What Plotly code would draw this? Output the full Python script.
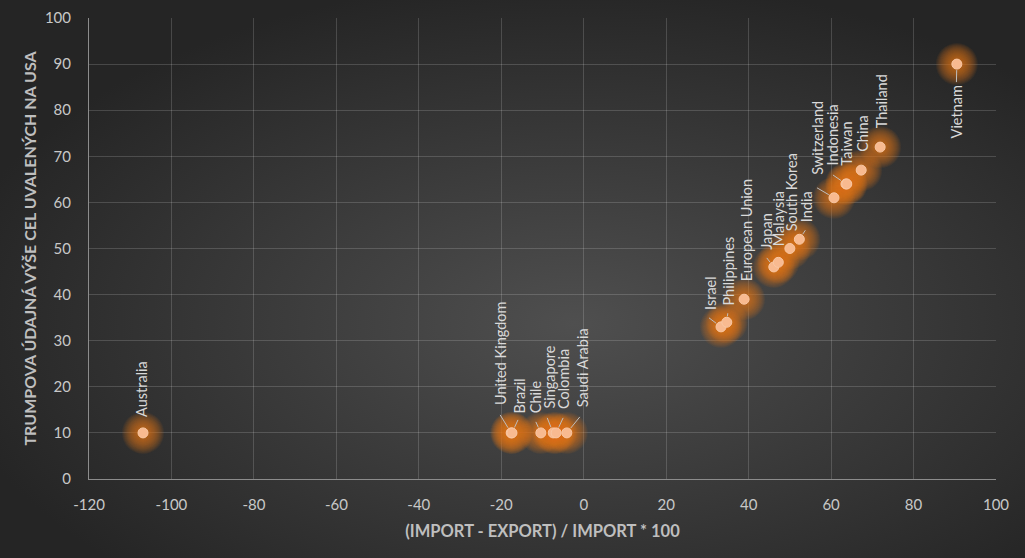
import plotly.graph_objects as go
import base64
import math

# ---- data ----
countries = ["Australia", "United Kingdom", "Brazil", "Chile", "Singapore", "Colombia",
             "Saudi Arabia", "Israel", "Philippines", "European Union", "Japan", "Malaysia",
             "South Korea", "India", "Switzerland", "Indonesia", "Taiwan", "China",
             "Thailand", "Vietnam"]
trade_balance_pct = [-106.9, -17.6, -17.4, -10.4, -7.4, -6.7, -4.1, 33.3, 34.7, 38.9,
                     46.1, 47.2, 50.0, 52.3, 60.7, 63.6, 63.8, 67.3, 71.9, 90.5]
claimed_tariff = [10, 10, 10, 10, 10, 10, 10, 33, 34, 39, 46, 47, 50, 52, 61, 64, 64, 67, 72, 90]

x_ticks = [-120, -100, -80, -60, -40, -20, 0, 20, 40, 60, 80, 100]
y_ticks = [0, 10, 20, 30, 40, 50, 60, 70, 80, 90, 100]

x_title = "(IMPORT - EXPORT) / IMPORT * 100"
y_title = "TRUMPOVA ÚDAJNÁ VÝŠE CEL UVALENÝCH NA USA"

# ---- label placement: pixel offset of the label's near end from its point ----
label_offset = {
    "Australia": (-1, -15), "United Kingdom": (-10, -27), "Brazil": (7, -19),
    "Chile": (-5, -19), "Singapore": (-4, -23), "Colombia": (8, -23),
    "Saudi Arabia": (16, -25), "Israel": (-10, -16), "Philippines": (2, -16),
    "European Union": (2, -17), "Japan": (-7, -16), "Malaysia": (1, -15),
    "South Korea": (2, -16), "India": (7, -16), "Switzerland": (-16, -22),
    "Indonesia": (-13, -18), "Taiwan": (0, -17), "China": (1, -17),
    "Thailand": (1, -18), "Vietnam": (0, 20),
}
# leader line tail (pixel offset from point) for labels that have one
leader_tail = {
    "United Kingdom": (-11, -18), "Brazil": (6, -13), "Chile": (-5, -11),
    "Singapore": (-6, -15), "Colombia": (7, -15), "Saudi Arabia": (13, -16),
    "Israel": (-12, -9), "Philippines": (1, -9), "Japan": (-7, -9), "India": (6, -9),
    "Switzerland": (-17, -10), "Indonesia": (-13, -9), "Vietnam": (-0.4, 18),
}

W, H = 1025, 558
ML, MR, MT, MB = 89, 29, 18, 79
PW, PH = W - ML - MR, H - MT - MB

FONT = "Lato, Carlito, 'Liberation Sans', sans-serif"
ORANGE = "#E8731F"

fig = go.Figure()

# soft glow: many stacked translucent markers
for size in range(42, 10, -2):
    fig.add_trace(go.Scatter(
        x=trade_balance_pct, y=claimed_tariff, mode="markers",
        marker=dict(size=size, color=ORANGE, opacity=0.075, line=dict(width=0)),
        hoverinfo="skip", showlegend=False))

# points
fig.add_trace(go.Scatter(
    x=trade_balance_pct, y=claimed_tariff, mode="markers",
    marker=dict(size=10, color="#F8BA90", line=dict(width=1, color="#F9C8A4")),
    text=countries, hovertemplate="%{text}<br>%{x}, %{y}<extra></extra>",
    showlegend=False))

annotations = []
shapes = []
for name, xv, yv in zip(countries, trade_balance_pct, claimed_tariff):
    dx, dy = label_offset[name]
    annotations.append(dict(
        x=xv, y=yv, xref="x", yref="y", text=name, textangle=-90,
        font=dict(family=FONT, size=14.5, color="#D9D9D9"),
        xanchor="center", yanchor="top" if dy > 0 else "bottom", borderpad=0,
        showarrow=False, xshift=dx, yshift=-dy))
    if name in leader_tail:
        tx, ty = leader_tail[name]
        d = math.hypot(tx, ty)
        r = 6.0
        hx, hy = tx / d * r, ty / d * r
        shapes.append(dict(
            type="line", xref="x", yref="y",
            xsizemode="pixel", ysizemode="pixel", xanchor=xv, yanchor=yv,
            x0=hx, y0=-hy, x1=tx, y1=-ty,
            line=dict(color="#BFBFBF", width=1)))

# radial gradient background as an svg image
svg = ('<svg xmlns="http://www.w3.org/2000/svg" width="1025" height="558" '
       'preserveAspectRatio="none" viewBox="0 0 1025 558">'
       '<defs><radialGradient id="g" cx="0.56" cy="0.58" r="0.62">'
       '<stop offset="0" stop-color="#4F4F4F"/>'
       '<stop offset="1" stop-color="#252525"/></radialGradient></defs>'
       '<rect width="1025" height="558" fill="url(#g)"/></svg>')
svg_uri = "data:image/svg+xml;base64," + base64.b64encode(svg.encode()).decode()

fig.update_layout(
    width=W, height=H,
    margin=dict(l=ML, r=MR, t=MT, b=MB, autoexpand=False),
    paper_bgcolor="#2E2E2E",
    plot_bgcolor="rgba(0,0,0,0)",
    font=dict(family=FONT, color="#C8C8C8"),
    annotations=annotations,
    shapes=shapes,
    images=[dict(source=svg_uri, xref="paper", yref="paper",
                 x=-ML / PW, y=1 + MT / PH, sizex=W / PW, sizey=H / PH,
                 xanchor="left", yanchor="top", sizing="stretch", layer="below")],
    xaxis=dict(range=[-120, 100], tickvals=x_ticks, ticktext=[str(v) for v in x_ticks],
               showgrid=True, gridcolor="rgba(255,255,255,0.16)", gridwidth=1,
               zeroline=False, showline=True, linecolor="#8C8C8C", linewidth=1,
               ticks="", ticklabelstandoff=12, automargin=False,
               tickfont=dict(family=FONT, size=15, color="#C8C8C8"),
               title=dict(text="<b>" + x_title + "</b>", standoff=13,
                          font=dict(family=FONT, size=16.5, color="#BFBFBF"))),
    yaxis=dict(range=[0, 100], tickvals=y_ticks, ticktext=[str(v) for v in y_ticks],
               showgrid=True, gridcolor="rgba(255,255,255,0.16)", gridwidth=1,
               zeroline=False, showline=True, linecolor="#8C8C8C", linewidth=1,
               ticks="", ticklabelstandoff=14, automargin=False,
               tickfont=dict(family=FONT, size=15, color="#C8C8C8"),
               title=dict(text="<b>" + y_title + "</b>", standoff=4,
                          font=dict(family=FONT, size=16, color="#BFBFBF"))),
)

fig.write_html("out.html", config={"displayModeBar": False},
               post_script="document.body.style.margin='0';"
                           "document.body.style.background='#262626';")
